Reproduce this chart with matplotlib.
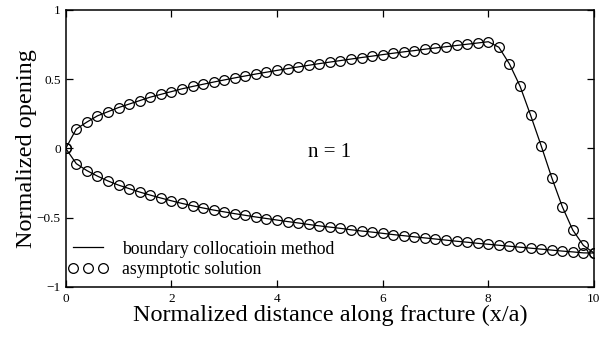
import numpy as np
import matplotlib
matplotlib.use("Agg")
import matplotlib.pyplot as plt
from matplotlib.lines import Line2D

plt.rcParams['font.family'] = ['Liberation Serif', 'DejaVu Serif']

# data (x/a from 0 to 10, step 0.2)
x = [0.0, 0.2, 0.4, 0.6, 0.8, 1.0, 1.2, 1.4, 1.6, 1.8,
     2.0, 2.2, 2.4, 2.6, 2.8, 3.0, 3.2, 3.4, 3.6, 3.8,
     4.0, 4.2, 4.4, 4.6, 4.8, 5.0, 5.2, 5.4, 5.6, 5.8,
     6.0, 6.2, 6.4, 6.6, 6.8, 7.0, 7.2, 7.4, 7.6, 7.8,
     8.0, 8.2, 8.4, 8.6, 8.8, 9.0, 9.2, 9.4, 9.6, 9.8, 10.0]

upper = [0.0, 0.14, 0.19, 0.235, 0.265, 0.295, 0.32, 0.345, 0.37, 0.39,
         0.41, 0.43, 0.447, 0.463, 0.479, 0.494, 0.509, 0.523, 0.537, 0.55,
         0.563, 0.576, 0.588, 0.60, 0.612, 0.623, 0.634, 0.645, 0.656, 0.666,
         0.677, 0.687, 0.697, 0.706, 0.716, 0.725, 0.734, 0.743, 0.752, 0.761,
         0.77, 0.73, 0.61, 0.45, 0.24, 0.02, -0.21, -0.42, -0.59, -0.70, -0.755]

lower = [0.0, -0.11, -0.16, -0.20, -0.235, -0.265, -0.29, -0.315, -0.337, -0.358,
         -0.378, -0.397, -0.414, -0.43, -0.445, -0.458, -0.471, -0.483, -0.495, -0.506,
         -0.517, -0.528, -0.538, -0.549, -0.559, -0.568, -0.577, -0.587, -0.596, -0.604,
         -0.613, -0.622, -0.63, -0.638, -0.646, -0.654, -0.662, -0.67, -0.677, -0.685,
         -0.692, -0.699, -0.706, -0.713, -0.72, -0.727, -0.734, -0.741, -0.747, -0.754, -0.755]

xticks = [0, 2, 4, 6, 8, 10]
yticks = [-1, -0.5, 0, 0.5, 1]
ytick_labels = ['\u22121', '\u22120.5', '0', '0.5', '1']

fig = plt.figure(figsize=(6.03, 3.40), dpi=100)
ax = fig.add_axes([0.109, 0.156, 0.876, 0.815])

# solid lines (boundary collocation)
ax.plot(x, upper, color='black', lw=0.9)
ax.plot(x, lower, color='black', lw=0.9)
# open circles (asymptotic)
ax.plot(x, upper, ls='none', marker='o', ms=7, mfc='none', mec='black', mew=0.9)
ax.plot(x, lower, ls='none', marker='o', ms=7, mfc='none', mec='black', mew=0.9)

ax.set_xlim(0, 10)
ax.set_ylim(-1, 1)
ax.set_xticks(xticks)
ax.set_yticks(yticks)
ax.set_yticklabels(ytick_labels)
ax.tick_params(direction='in', top=True, right=True, length=5, width=0.9, labelsize=9.5)
ax.tick_params(axis='x', pad=4)
for s in ax.spines.values():
    s.set_linewidth(1.1)

ax.set_xlabel("Normalized distance along fracture (x/a)", fontsize=17.5, labelpad=0)
ax.set_ylabel("Normalized opening", fontsize=17.5, labelpad=0)

ax.text(5.0, -0.03, "n = 1", fontsize=15, ha='center', va='center')

handles = [Line2D([], [], color='black', lw=0.9),
           Line2D([], [], ls='none', marker='o', ms=7, mfc='none', mec='black', mew=0.9)]
ax.legend(handles, ["boundary collocatioin method", "asymptotic solution"],
          loc='lower left', numpoints=3, frameon=False, fontsize=12.8,
          handlelength=2.3, handletextpad=0.75, borderaxespad=0.1,
          labelspacing=0.2, bbox_to_anchor=(-0.013, 0.0))

fig.savefig("out.png", dpi=100)
